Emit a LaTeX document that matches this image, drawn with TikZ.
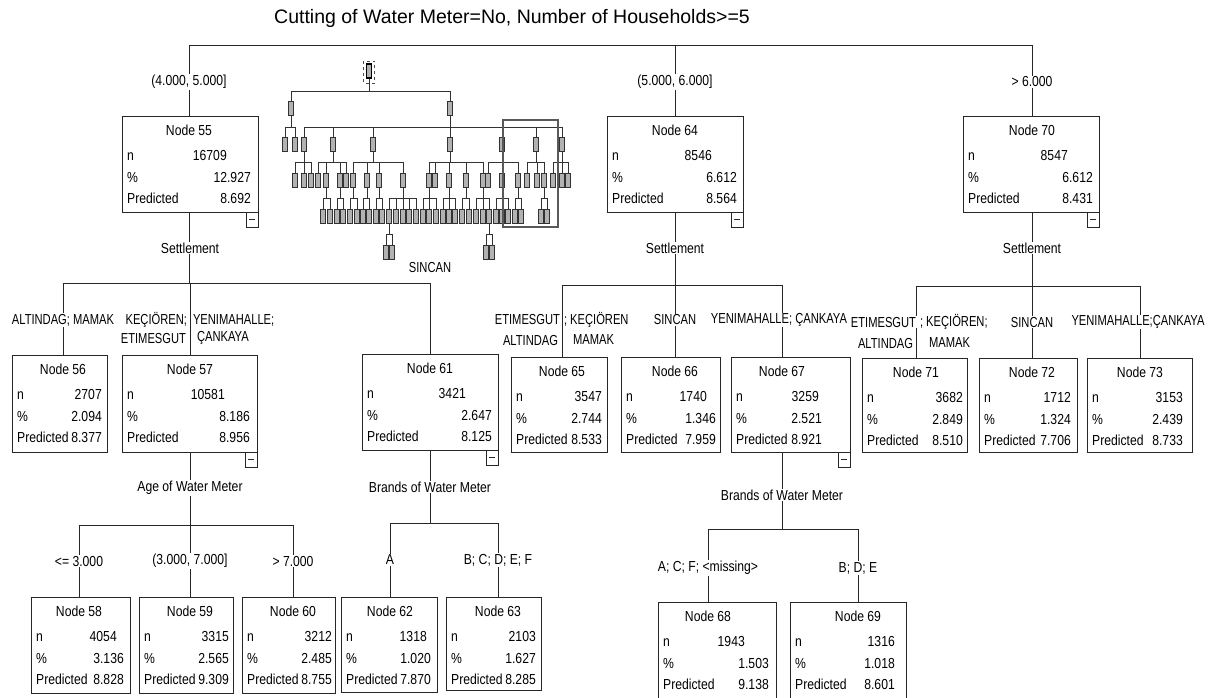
\documentclass[tikz,border=0pt]{standalone}
\usepackage{fontspec}
\setmainfont[FakeStretch=0.84]{Liberation Sans}
\newfontfamily\titlefam{Liberation Sans}
\newfontfamily\capfam[FakeStretch=0.77]{Liberation Sans}
\newcommand\nf{\fontsize{14.5}{16}\selectfont}
\newcommand\cf{\capfam\fontsize{14.5}{16}\selectfont}
\newcommand\ttlf{\titlefam\fontsize{19.5}{22}\selectfont}
\def\tnvals#1/#2/#3\relax{\def\tnN{#1}\def\tnP{#2}\def\tnR{#3}}
\def\tnends#1/#2\relax{\def\tnNE{#1}\def\tnVE{#2}}
\tikzset{
 tbox/.style={draw=black!85, line width=0.9pt, fill=white, inner sep=0pt, outer sep=0pt, anchor=north west},
 tx/.style={font=\nf, inner sep=0pt},
 lb/.style={font=\nf, fill=white, inner sep=0.8pt},
 cl/.style={font=\cf, fill=white, inner sep=0.8pt},
 ln/.style={draw=black!85, line width=0.9pt},
 mln/.style={draw=black!80, line width=0.9pt},
 mrect/.style={draw=black!80, fill=black!30, line width=0.8pt},
 minusbox/.style={draw=black!85, fill=white, line width=0.8pt},
}
\newcommand\tn[9]{%
  \tnvals#7\relax \tnends#8\relax
  \node[tbox, minimum width={(#5-#3)*1pt}, minimum height={(#6-#4)*1pt}] (n#1) at (#3,#4) {};
  \node[tx, anchor=base] (t#1) at (#2,#4+19.5) {Node #1};
  \node[tx, anchor=base west] (n#1a) at (#3+5,#4+44) {n};
  \node[tx, anchor=base west] (n#1b) at (#3+5,#4+66) {\%};
  \node[tx, anchor=base west] (n#1c) at (#3+5,#4+87) {Predicted};
  \node[tx, anchor=base east] (n#1d) at (\tnNE,#4+44) {\tnN};
  \node[tx, anchor=base east] (n#1e) at (\tnVE,#4+66) {\tnP};
  \node[tx, anchor=base east] (n#1f) at (\tnVE,#4+87) {\tnR};
  \ifnum#9=1
    \draw[minusbox] (#5-12,#6) rectangle (#5,#6+15);
    \draw[ln] (#5-9,#6+7.5) -- (#5-3,#6+7.5);
  \fi
}
\newcommand\mgroup[5]{%
  \pgfmathsetmacro\gmin{min(#5)}\pgfmathsetmacro\gmax{max(#5)}%
  \draw[mln] (#1,#2) -- (#1,#3) (\gmin,#3) -- (\gmax,#3);
  \foreach \c in {#5}{\draw[mln] (\c,#3) -- (\c,#4); \draw[mrect] (\c-2.6,#4) rectangle (\c+2.6,#4+14);}
}
\begin{document}
\begin{tikzpicture}[x=1pt,y=-1pt]
\useasboundingbox (0,0) rectangle (1220,697);
\fill[white] (0,0) rectangle (1220,697);

% title
\node[font=\ttlf, inner sep=0pt, anchor=west] (title) at (274,18) {Cutting of Water Meter=No, Number of Households>=5};

% bar levels
\coordinate (y0) at (0,45);
\coordinate (y55) at (0,283);
\coordinate (y64) at (0,285);
\coordinate (y70) at (0,286);
\coordinate (y57) at (0,525);
\coordinate (y61) at (0,523);
\coordinate (y67) at (0,529);

% tree nodes
\tn{55}{189}{122}{116}{258}{212}{16709/12.927/8.692}{227/251}{1}
\tn{64}{675}{607}{116}{743}{212}{8546/6.612/8.564}{712/737}{1}
\tn{70}{1032}{963}{116}{1099}{212}{8547/6.612/8.431}{1068/1093}{1}
\tn{56}{63}{12}{355}{107}{452}{2707/2.094/8.377}{102/102}{0}
\tn{57}{190}{122}{355}{257}{452}{10581/8.186/8.956}{225/250}{1}
\tn{61}{430}{362}{354}{498}{450}{3421/2.647/8.125}{466/492}{1}
\tn{58}{79}{31}{597}{130}{693}{4054/3.136/8.828}{117/124}{0}
\tn{59}{190}{139}{597}{233}{693}{3315/2.565/9.309}{229/229}{0}
\tn{60}{293}{242}{597}{335}{693}{3212/2.485/8.755}{332/332}{0}
\tn{62}{390}{341}{597}{437}{692}{1318/1.020/7.870}{427/431}{0}
\tn{63}{498}{446}{597}{541}{690}{2103/1.627/8.285}{536/536}{0}
\tn{65}{562}{511}{357}{607}{452}{3547/2.744/8.533}{602/602}{0}
\tn{66}{675}{621}{357}{720}{452}{1740/1.346/7.959}{707/716}{0}
\tn{67}{782}{731}{357}{850}{452}{3259/2.521/8.921}{819/822}{1}
\tn{68}{708}{658}{602}{776}{712}{1943/1.503/9.138}{745/769}{0}
\tn{69}{858}{790}{602}{906}{712}{1316/1.018/8.601}{895/895}{0}
\tn{71}{916}{862}{358}{967}{452}{3682/2.849/8.510}{963/963}{0}
\tn{72}{1032}{979}{358}{1077}{452}{1712/1.324/7.706}{1071/1071}{0}
\tn{73}{1140}{1087}{358}{1192}{452}{3153/2.439/8.733}{1183/1183}{0}

% connectors
\draw[ln] (t55 |- y0) -- (t70 |- y0);
\foreach \c in {55,64,70} \draw[ln] (t\c |- y0) -- (t\c |- n\c.north);

\draw[ln] (t55 |- n55.south) -- (t55 |- y55);
\draw[ln] (t56 |- y55) -- (t61 |- y55);
\foreach \c in {56,57,61} \draw[ln] (t\c |- y55) -- (t\c |- n\c.north);

\draw[ln] (t64 |- n64.south) -- (t64 |- y64);
\draw[ln] (t65 |- y64) -- (t67 |- y64);
\foreach \c in {65,66,67} \draw[ln] (t\c |- y64) -- (t\c |- n\c.north);

\draw[ln] (t70 |- n70.south) -- (t70 |- y70);
\draw[ln] (t71 |- y70) -- (t73 |- y70);
\foreach \c in {71,72,73} \draw[ln] (t\c |- y70) -- (t\c |- n\c.north);

\draw[ln] (t57 |- n57.south) -- (t57 |- y57);
\draw[ln] (t58 |- y57) -- (t60 |- y57);
\foreach \c in {58,59,60} \draw[ln] (t\c |- y57) -- (t\c |- n\c.north);

\draw[ln] (t61 |- n61.south) -- (t61 |- y61);
\draw[ln] (t62 |- y61) -- (t63 |- y61);
\foreach \c in {62,63} \draw[ln] (t\c |- y61) -- (t\c |- n\c.north);

\draw[ln] (t67 |- n67.south) -- (t67 |- y67);
\draw[ln] (t68 |- y67) -- (t69 |- y67);
\foreach \c in {68,69} \draw[ln] (t\c |- y67) -- (t\c |- n\c.north);

% split labels
\node[lb] (s55) at (190,248) {Settlement};
\node[lb] (s64) at (675,248) {Settlement};
\node[lb] (s70) at (1032,248) {Settlement};
\node[lb] (s57) at (190,488) {Age of Water Meter};
\node[lb] (s61) at (430,487) {Brands of Water Meter};
\node[lb] (s67) at (782,495) {Brands of Water Meter};

% edge labels
\node[lb] (e55) at (189,82) {(4.000, 5.000]};
\node[lb] (e64) at (675,82) {(5.000, 6.000]};
\node[lb] (e70) at (1032,82) {> 6.000};

\node[cl] (e56) at (63,320) {ALTINDAG; MAMAK};
\node[cl, anchor=east] (e57a) at (188,320) {KEÇIÖREN;};
\node[cl, anchor=west] (e57b) at (192,320) {YENIMAHALLE;};
\node[cl, anchor=east] (e57c) at (187,338) {ETIMESGUT};
\node[cl, anchor=west] (e57d) at (196,338) {ÇANKAYA};
\node[cl] (e61) at (430,268) {SINCAN};

\node[cl, anchor=east] (e65a) at (561,320) {ETIMESGUT};
\node[cl, anchor=west] (e65b) at (563,320) {; KEÇIÖREN};
\node[cl, anchor=east] (e65c) at (559,340) {ALTINDAG};
\node[cl, anchor=west] (e65d) at (572,340) {MAMAK};
\node[cl] (e66) at (675,320) {SINCAN};
\node[cl] (e67) at (779,320) {YENIMAHALLE; ÇANKAYA};

\node[cl, anchor=east] (e71a) at (917,322) {ETIMESGUT};
\node[cl, anchor=west] (e71b) at (919,322) {; KEÇIÖREN;};
\node[cl, anchor=east] (e71c) at (914,343) {ALTINDAG};
\node[cl, anchor=west] (e71d) at (928,343) {MAMAK};
\node[cl] (e72) at (1032,322) {SINCAN};
\node[cl] (e73) at (1138,322) {YENIMAHALLE;ÇANKAYA};

\node[lb] (e58) at (79,561) {<= 3.000};
\node[lb] (e59) at (190,561) {(3.000, 7.000]};
\node[lb] (e60) at (293,561) {> 7.000};
\node[lb] (e62) at (390,560) {A};
\node[lb] (e63) at (498,560) {B; C; D; E; F};
\node[lb] (e68) at (708,568) {A; C; F; <missing>};
\node[lb] (e69) at (858,568) {B; D; E};

% overview mini tree
\mgroup{369}{78}{91}{101}{291,450}
\mgroup{291}{115}{127}{137}{285,295}
\mgroup{450}{115}{127}{137}{304,333,373,450,502,536,562}
\mgroup{304}{151}{162}{173}{295,304,311}
\mgroup{333}{151}{162}{173}{318,326,340,346}
\mgroup{373}{151}{162}{173}{353,367,379,403}
\mgroup{450}{151}{162}{173}{429,435,449,466,483}
\mgroup{502}{151}{162}{173}{488,502,518}
\mgroup{536}{151}{162}{173}{527,537,544}
\mgroup{562}{151}{162}{173}{553,562,568}
\mgroup{326}{187}{198}{209}{323,330}
\mgroup{340}{187}{198}{209}{337,343}
\mgroup{353}{187}{198}{209}{350,357}
\mgroup{367}{187}{198}{209}{363,369}
\mgroup{379}{187}{198}{209}{376,382}
\mgroup{403}{187}{198}{209}{389,396,403,409,416}
\mgroup{429}{187}{198}{209}{423,429,436}
\mgroup{449}{187}{198}{209}{443,449,455}
\mgroup{466}{187}{198}{209}{462,469}
\mgroup{483}{187}{198}{209}{476,483,489}
\mgroup{502}{187}{198}{209}{496,502,508}
\mgroup{518}{187}{198}{209}{515,521}
\mgroup{544}{187}{198}{209}{541,547}
\mgroup{389}{223}{234}{245}{386,392}
\mgroup{489}{223}{234}{245}{486,492}
\draw[mrect, draw=black, line width=1.3pt] (366.5,64) rectangle (371.5,78);
\draw[dashed, black!70, line width=0.7pt] (363.5,61) rectangle (374.5,83);
\draw[black!65, line width=1.6pt] (503,120) rectangle (558,227);
\end{tikzpicture}
\end{document}
